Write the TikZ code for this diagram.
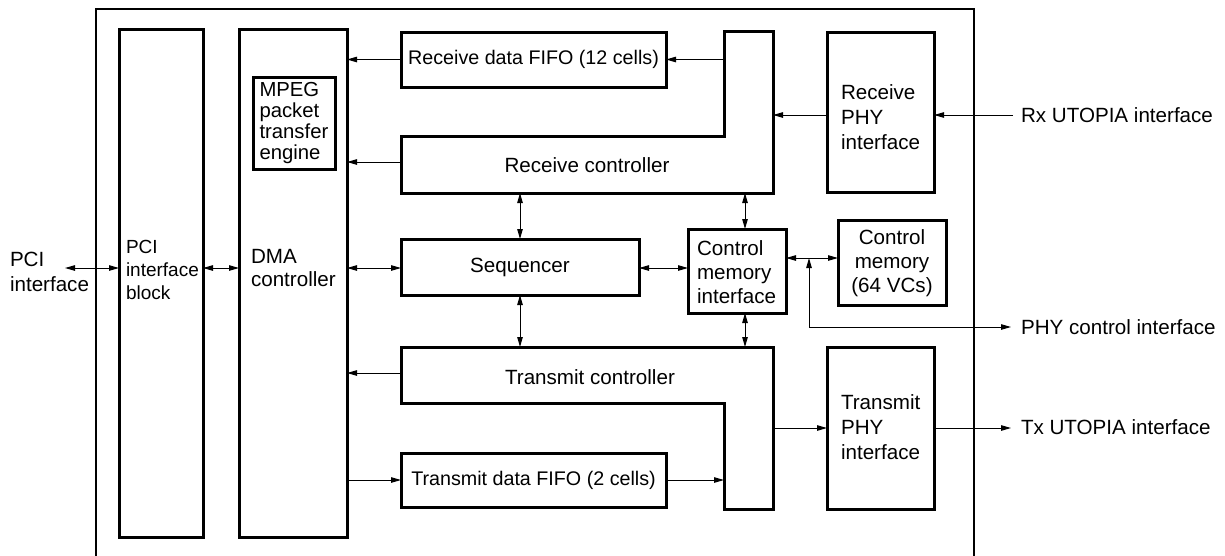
\documentclass[tikz,border=0pt]{standalone}
\usepackage{fontspec}
\setmainfont{Liberation Sans}
\usetikzlibrary{arrows.meta}
\begin{document}
\begin{tikzpicture}[x=1pt,y=-1pt,
  box/.style={draw, line width=3pt, inner sep=0pt, outer sep=0pt},
  ghost/.style={inner sep=0pt, outer sep=0pt},
  lshape/.style={draw, line width=3pt, line join=miter},
  lbl/.style={inner sep=0pt, outer sep=0pt, font=\fontsize{20.6}{24}\selectfont},
  fifofont/.style={font=\fontsize{19.7}{24}\selectfont},
  con/.style={line width=1pt, -{Triangle[length=10pt,width=5.5pt]}},
  bicon/.style={line width=1pt, {Triangle[length=10pt,width=5.5pt]}-{Triangle[length=10pt,width=5.5pt]}},
]
\useasboundingbox (0,0) rectangle (1225,555);
\begin{scope}
\clip (0,0) rectangle (1225,555);
% outer chip boundary
\draw[line width=2.8pt] (96,562) -- (96,9) -- (974,9) -- (974,562);
\end{scope}

% blocks
\node[box, minimum width=84pt, minimum height=508pt] (pci) at (161,283) {};
\node[box, minimum width=108pt, minimum height=508pt] (dma) at (293,283) {};
\node[box, minimum width=82pt, minimum height=92pt] (mpeg) at (294,123) {};
\node[box, fifofont, minimum width=265pt, minimum height=55pt] (rxfifo) at (533.5,59.5) {Receive data FIFO (12 cells)};
\node[box, minimum width=107pt, minimum height=160pt] (rxphy) at (880.5,112) {};
\node[box, minimum width=238pt, minimum height=56pt, font=\fontsize{20.6}{24}\selectfont] (seq) at (520,267) {Sequencer};
\node[box, minimum width=98pt, minimum height=84pt] (cmi) at (737,271) {};
\node[box, minimum width=108pt, minimum height=85pt] (cm) at (892,262.5) {};
\node[box, fifofont, minimum width=265pt, minimum height=54pt] (txfifo) at (533.5,480) {Transmit data FIFO (2 cells)};
\node[box, minimum width=107pt, minimum height=162pt] (txphy) at (880.5,428) {};

% L-shaped controllers
\node[ghost, minimum width=372pt, minimum height=57pt] (rch) at (587,164.5) {};
\node[ghost, minimum width=49pt, minimum height=162pt] (rcv) at (748.5,112) {};
\draw[lshape] (rch.north west) -- (rcv.south west |- rch.north) -- (rcv.north west) -- (rcv.north east) -- (rch.south east) -- (rch.south west) -- cycle;
\node[ghost, minimum width=372pt, minimum height=56pt] (tch) at (587,375) {};
\node[ghost, minimum width=49pt, minimum height=162pt] (tcv) at (748.5,428) {};
\draw[lshape] (tch.north west) -- (tch.north east) -- (tcv.south east) -- (tcv.south west) -- (tcv.north west |- tch.south) -- (tch.south west) -- cycle;

% labels
\node[lbl, anchor=west, align=left, font=\fontsize{19}{23}\selectfont] (tpci) at (126,270) {PCI\\interface\\block};
\node[lbl, anchor=west, align=left, font=\fontsize{20.6}{23}\selectfont] (tdma) at (251,268.5) {DMA\\controller};
\node[lbl, anchor=west, align=left, font=\fontsize{20.3}{21}\selectfont] (tmpeg) at (259.5,123.5) {MPEG\\packet\\transfer\\engine};
\node[lbl, anchor=west, align=left, font=\fontsize{20.6}{25}\selectfont] (trxphy) at (841,117) {Receive\\PHY\\interface};
\node[lbl, anchor=west, align=left, font=\fontsize{20.6}{25}\selectfont] (ttxphy) at (841,427) {Transmit\\PHY\\interface};
\node[lbl, anchor=west, align=left] (tcmi) at (697,272) {Control\\memory\\interface};
\node[lbl, align=center] (tcm) at (892,263) {Control\\memory\\(64 VCs)};
\node[lbl] (trc) at (587,165) {Receive controller};
\node[lbl] (ttc) at (590,377) {Transmit controller};
\node[lbl, anchor=west, align=left, font=\fontsize{20.6}{25}\selectfont] (tpciext) at (10,272) {PCI\\interface};
\node[lbl, anchor=west] (trxu) at (1021,115) {Rx UTOPIA interface};
\node[lbl, anchor=west] (tphyc) at (1021,327) {PHY control interface};
\node[lbl, anchor=west] (ttxu) at (1021,427) {Tx UTOPIA interface};

% free connector ends
\coordinate (pcil) at (65,268);
\coordinate (rxin) at (1013,115);
\coordinate (phyout) at (1011,327);
\coordinate (txout) at (1011,428);
\coordinate (jt) at (809,258);
\coordinate (jb) at (809,327);
\coordinate (cmx) at (745,0);

% connectors
\draw[bicon] (pcil) -- (pci.west |- pcil);
\draw[bicon] (pci.east |- pcil) -- (dma.west |- pcil);
\draw[bicon] (dma.east |- pcil) -- (seq.west |- pcil);
\draw[bicon] (seq.east |- pcil) -- (cmi.west |- pcil);
\draw[bicon] (cmi.east |- jt) -- (cm.west |- jt);
\draw[con] (rxfifo.west) -- (rxfifo.west -| dma.east);
\draw[con] (rcv.west |- rxfifo.east) -- (rxfifo.east);
\draw[con] (rch.west |- 0,162) -- (dma.east |- 0,162);
\draw[con] (rxin) -- (rxin -| rxphy.east);
\draw[con] (rxin -| rxphy.west) -- (rxin -| rcv.east);
\draw[bicon] (rch.south -| seq.north) -- (seq.north);
\draw[bicon] (rch.south -| cmx) -- (cmi.north -| cmx);
\draw[bicon] (seq.south) -- (seq.south |- tch.north);
\draw[bicon] (cmi.south -| cmx) -- (tch.north -| cmx);
\draw[con] (tch.west |- 0,373) -- (dma.east |- 0,373);
\draw[con] (txfifo.west -| dma.east) -- (txfifo.west);
\draw[con] (txfifo.east) -- (txfifo.east -| tcv.west);
\draw[con] (txout -| tcv.east) -- (txout -| txphy.west);
\draw[con] (txout -| txphy.east) -- (txout);
\draw[bicon] (jt) -- (jb) -- (phyout);
\end{tikzpicture}
\end{document}
